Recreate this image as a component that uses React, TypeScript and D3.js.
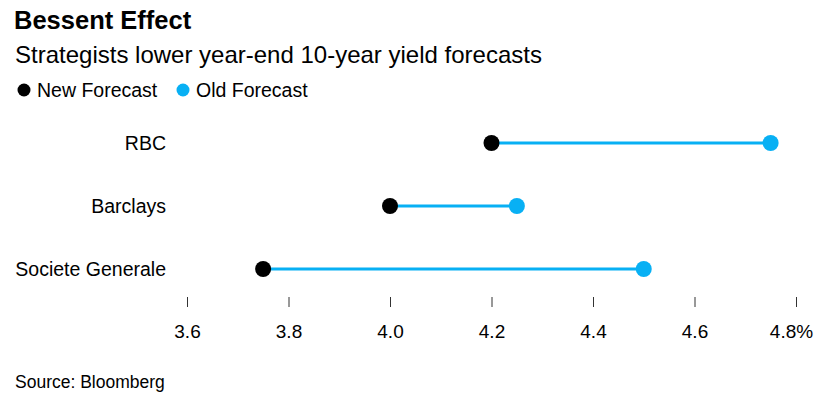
import * as d3 from "d3";
import { useEffect, useRef } from "react";

const banks = ["RBC", "Barclays", "Societe Generale"];
const newForecast = [4.2, 4.0, 3.75];
const oldForecast = [4.75, 4.25, 4.5];
const xTicks = [3.6, 3.8, 4.0, 4.2, 4.4, 4.6, 4.8];

const width = 827;
const height = 399;
const blue = "#08b0f4";
const font = "'Liberation Sans', Arial, sans-serif";

export default function App() {
  const svgRef = useRef<SVGSVGElement | null>(null);

  useEffect(() => {
    if (!svgRef.current) return;
    const svg = d3.select(svgRef.current);
    svg.selectAll("*").remove();

    const x = d3.scaleLinear().domain([3.6, 4.8]).range([187, 796]);
    const y = d3.scalePoint<string>().domain(banks).range([143, 269]);

    // header
    svg
      .append("text")
      .attr("x", 14)
      .attr("y", 29)
      .attr("font-size", 25.5)
      .attr("font-weight", 700)
      .text("Bessent Effect");
    svg
      .append("text")
      .attr("x", 15)
      .attr("y", 63)
      .attr("font-size", 24)
      .text("Strategists lower year-end 10-year yield forecasts");

    const legend = [
      { label: "New Forecast", color: "#000", x: 24 },
      { label: "Old Forecast", color: blue, x: 183 },
    ];
    const lg = svg.append("g");
    lg.selectAll("circle")
      .data(legend)
      .join("circle")
      .attr("cx", (d) => d.x)
      .attr("cy", 90)
      .attr("r", 6.5)
      .attr("fill", (d) => d.color);
    lg.selectAll("text")
      .data(legend)
      .join("text")
      .attr("x", (d) => d.x + 13)
      .attr("y", 97)
      .attr("font-size", 19.5)
      .text((d) => d.label);

    // x axis
    const axis = svg
      .append("g")
      .attr("transform", "translate(0, 297)")
      .call(
        d3
          .axisBottom(x)
          .tickValues(xTicks)
          .tickSize(10)
          .tickPadding(18)
          .tickFormat((d) => {
            const s = d3.format(".1f")(d as number);
            return d === 4.8 ? s + "%" : s;
          })
      );
    axis.select(".domain").remove();
    axis.selectAll(".tick line").attr("stroke", "#333");
    axis
      .selectAll<SVGTextElement, number>(".tick text")
      .attr("fill", "#000")
      .attr("font-size", 19)
      .attr("font-family", font)
      .attr("dx", (d) => (d === 4.8 ? -5 : 0));

    // category labels
    svg
      .append("g")
      .selectAll("text")
      .data(banks)
      .join("text")
      .attr("x", 166)
      .attr("y", (d) => (y(d) ?? 0) + 7)
      .attr("text-anchor", "end")
      .attr("font-size", 19.5)
      .text((d) => d);

    // dumbbells
    const rows = banks.map((b, i) => ({ bank: b, nv: newForecast[i], ov: oldForecast[i] }));
    const g = svg.append("g");
    g.selectAll("line")
      .data(rows)
      .join("line")
      .attr("x1", (d) => x(d.nv))
      .attr("x2", (d) => x(d.ov))
      .attr("y1", (d) => y(d.bank) ?? 0)
      .attr("y2", (d) => y(d.bank) ?? 0)
      .attr("stroke", blue)
      .attr("stroke-width", 3);
    g.selectAll("circle.old")
      .data(rows)
      .join("circle")
      .attr("class", "old")
      .attr("cx", (d) => x(d.ov))
      .attr("cy", (d) => y(d.bank) ?? 0)
      .attr("r", 8)
      .attr("fill", blue);
    g.selectAll("circle.new")
      .data(rows)
      .join("circle")
      .attr("class", "new")
      .attr("cx", (d) => x(d.nv))
      .attr("cy", (d) => y(d.bank) ?? 0)
      .attr("r", 8)
      .attr("fill", "#000");

    svg
      .append("text")
      .attr("x", 15)
      .attr("y", 388)
      .attr("font-size", 17.5)
      .text("Source: Bloomberg");
  }, []);

  return (
    <svg
      ref={svgRef}
      width={width}
      height={height}
      style={{ position: "absolute", left: 0, top: 0, background: "#fff", fontFamily: font }}
    />
  );
}
